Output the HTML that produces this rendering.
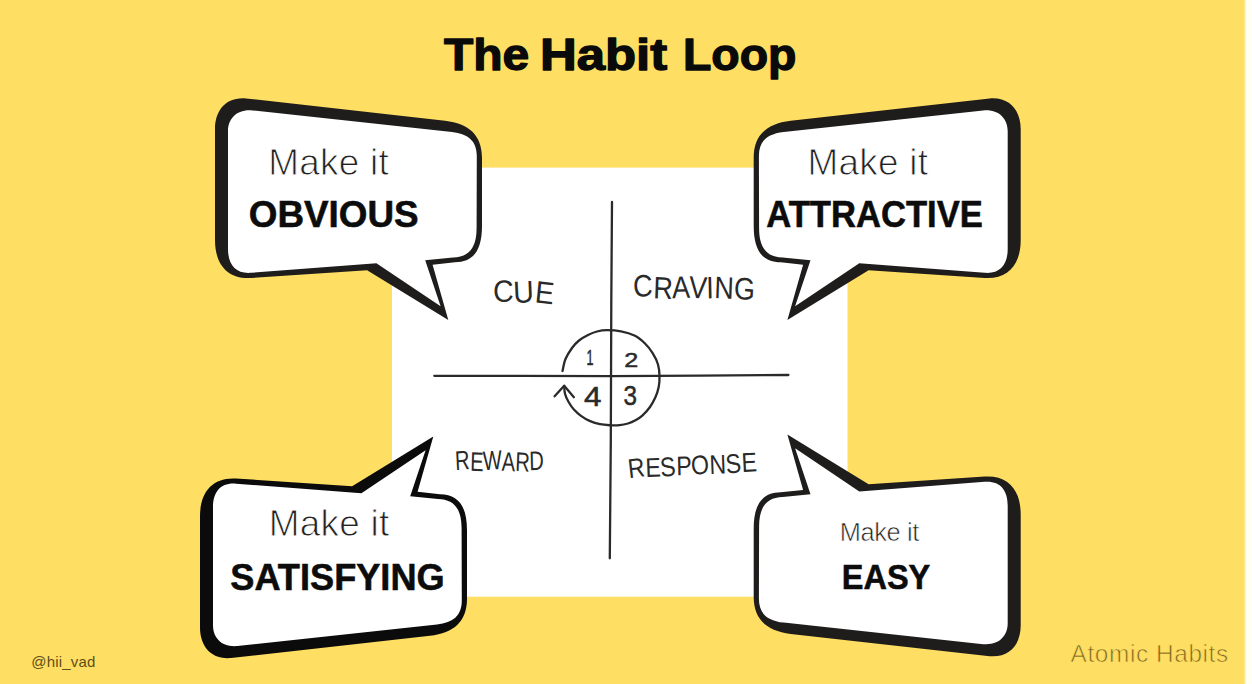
<!DOCTYPE html>
<html lang="en"><head><meta charset="utf-8"><title>The Habit Loop</title>
<style>
html,body{margin:0;padding:0;background:#fffff4;overflow:hidden}
body{width:1252px;height:684px;position:relative}
svg{position:absolute;left:0;top:0;display:block}
text{font-family:"Liberation Sans",sans-serif;white-space:pre}
</style></head><body>
<svg width="1252" height="684" viewBox="0 0 1252 684">
<defs><linearGradient id="edge" x1="0" x2="1"><stop offset="0" stop-color="#FEDE63"/><stop offset="1" stop-color="#fffff0"/></linearGradient></defs>
<rect x="0" y="0" width="1244" height="684" fill="#FEDE63"/>
<rect x="1243.5" y="0" width="3" height="684" fill="url(#edge)"/>
<rect x="392" y="167.6" width="455.5" height="429.1" fill="#ffffff"/>

<text y="70.2" font-size="45" font-weight="700" fill="#0a0a0a" stroke="#0a0a0a" stroke-width="1.3" stroke-linejoin="round"><tspan x="443.9" textLength="85.3" lengthAdjust="spacingAndGlyphs">The</tspan> <tspan x="540" textLength="127.2" lengthAdjust="spacingAndGlyphs">Habit</tspan> <tspan x="683" textLength="113.5" lengthAdjust="spacingAndGlyphs">Loop</tspan></text>
<g>
<g fill="none" stroke="#2a2a2a" stroke-width="2.3" stroke-linecap="round" stroke-linejoin="round">
<path d="M434.3,375.8 L520,375.9 L611,376.1 L700,375.6 L788.4,375"/>
<path d="M612,202 L611.3,300 L610.8,440 L609.8,558.3"/>
<path d="M562.5,371.0 C563.0,369.0 563.9,362.8 565.5,359.0 C567.1,355.2 569.8,351.1 572.0,348.0 C574.2,344.9 576.3,342.7 579.0,340.5 C581.7,338.3 585.0,336.5 588.0,335.0 C591.0,333.5 593.8,332.3 597.0,331.5 C600.2,330.7 603.0,330.2 607.0,330.2 C611.0,330.2 616.3,330.4 621.0,331.3 C625.7,332.2 631.0,333.8 635.0,335.8 C639.0,337.8 642.0,340.6 645.0,343.5 C648.0,346.4 650.6,349.8 652.8,353.3 C655.0,356.8 656.9,360.7 658.0,364.5 C659.1,368.3 659.4,372.2 659.5,376.0 C659.6,379.8 659.4,383.5 658.7,387.0 C658.0,390.5 656.9,393.9 655.4,397.2 C653.9,400.5 652.2,403.9 650.0,407.0 C647.8,410.1 644.7,413.4 642.3,415.6 C639.9,417.8 637.9,419.0 635.5,420.3 C633.1,421.6 630.7,422.7 628.0,423.5 C625.3,424.3 622.4,424.9 619.5,425.2 C616.6,425.5 614.0,425.5 610.7,425.3 C607.5,425.1 603.5,424.9 600.0,424.2 C596.5,423.5 592.8,422.3 589.6,420.9 C586.4,419.5 583.6,417.8 581.0,415.9 C578.4,414.0 576.0,411.8 573.9,409.5 C571.8,407.2 570.1,404.6 568.6,402.0 C567.1,399.4 565.7,396.4 565.0,393.7 C564.3,391.0 564.3,387.1 564.2,385.8"/>
<path d="M554.6,396.3 L564.2,385.8 L573.9,397.2"/>
</g>
<text x="493.2" y="302" font-size="31" fill="#2a2a2a" dy="0 1 -1.5" rotate="-2 -4 5" transform="rotate(1 493.2 302)" textLength="60" lengthAdjust="spacingAndGlyphs">CUE</text>
<text x="633.4" y="297" font-size="31" fill="#2a2a2a" dy="0 1 0 -1 1 -0.5 0.5" rotate="-3 2 -2 3 -2 2 3" transform="rotate(0.4 633.4 297)" textLength="121" lengthAdjust="spacingAndGlyphs">CRAVING</text>
<text x="455.4" y="470.3" font-size="27" fill="#2a2a2a" dy="0 0.5 -0.5 0.5 0 -0.5" rotate="-4 2 -3 2 3 -2" textLength="88.5" lengthAdjust="spacingAndGlyphs">REWARD</text>
<text x="629" y="478.3" font-size="27" fill="#2a2a2a" dy="0 -0.5 1 -1 0.5 0 0.5 -1" rotate="-4 1 -3 2 -2 1 -3 0" transform="rotate(-3 629 478.3)" textLength="128.5" lengthAdjust="spacingAndGlyphs">RESPONSE</text>
<text x="586.5" y="364.7" font-size="21.5" fill="#2a2a2a" stroke="#2a2a2a" stroke-width="0.5" textLength="7" lengthAdjust="spacingAndGlyphs">1</text>
<text x="624.2" y="367.4" font-size="21" fill="#2a2a2a" stroke="#2a2a2a" stroke-width="0.5" textLength="14" lengthAdjust="spacingAndGlyphs">2</text>
<text x="584" y="406" font-size="27" fill="#2a2a2a" stroke="#2a2a2a" stroke-width="0.5" textLength="17.5" lengthAdjust="spacingAndGlyphs">4</text>
<text x="623.4" y="405.1" font-size="27" fill="#2a2a2a" stroke="#2a2a2a" stroke-width="0.5" textLength="13.5" lengthAdjust="spacingAndGlyphs">3</text>
</g>
<g><path d="M215,129 C215,112 224.5,96.8 246,98.4 L445,120.7 C469,123.5 482,135 482,158 L482,226 C482,251 473,262 455,262.3 L432.6,264.7 L448.3,320 L367.1,270.3 L251,278 C228,279.5 215,265 215,240 Z" fill="#1f1c1c"/><path d="M228,131 C228,119 236.5,109 252.5,110.4 L452,132 C468.5,134 476.8,141 476.8,156 L476.6,228 C476.6,248.5 468.5,257 453,257.5 L425.2,260.3 L440.6,306.3 L376.4,263.2 L251,272.8 C236,274 228,265 228,249 Z" fill="#fff"/></g>
<g transform="translate(1235.7,0) scale(-1,1)"><path d="M215,129 C215,112 224.5,96.8 246,98.4 L445,120.7 C469,123.5 482,135 482,158 L482,226 C482,251 473,262 455,262.3 L432.6,264.7 L448.3,320 L367.1,270.3 L251,278 C228,279.5 215,265 215,240 Z" fill="#1f1c1c"/><path d="M228,131 C228,119 236.5,109 252.5,110.4 L452,132 C468.5,134 476.8,141 476.8,156 L476.6,228 C476.6,248.5 468.5,257 453,257.5 L425.2,260.3 L440.6,306.3 L376.4,263.2 L251,272.8 C236,274 228,265 228,249 Z" fill="#fff"/></g>
<g transform="translate(-15,756.5) scale(1,-1)"><path d="M215,129 C215,112 224.5,96.8 246,98.4 L445,120.7 C469,123.5 482,135 482,158 L482,226 C482,251 473,262 455,262.3 L432.6,264.7 L448.3,320 L367.1,270.3 L251,278 C228,279.5 215,265 215,240 Z" fill="#0b0b0b"/><path d="M228,131 C228,119 236.5,109 252.5,110.4 L452,132 C468.5,134 476.8,141 476.8,156 L476.6,228 C476.6,248.5 468.5,257 453,257.5 L425.2,260.3 L440.6,306.3 L376.4,263.2 L251,272.8 C236,274 228,265 228,249 Z" fill="#fff"/></g>
<g transform="translate(1235.7,754.6) scale(-1,-1)"><path d="M215,129 C215,112 224.5,96.8 246,98.4 L445,120.7 C469,123.5 482,135 482,158 L482,226 C482,251 473,262 455,262.3 L432.6,264.7 L448.3,320 L367.1,270.3 L251,278 C228,279.5 215,265 215,240 Z" fill="#1f1c1c"/><path d="M228,131 C228,119 236.5,109 252.5,110.4 L452,132 C468.5,134 476.8,141 476.8,156 L476.6,228 C476.6,248.5 468.5,257 453,257.5 L425.2,260.3 L440.6,306.3 L376.4,263.2 L251,272.8 C236,274 228,265 228,249 Z" fill="#fff"/></g>
<text x="268.3" y="174.5" font-size="36.9" fill="#222" stroke="#fff" stroke-width="0.9" textLength="120.5" lengthAdjust="spacing">Make it</text>
<text x="248.8" y="226.7" font-size="36.6" font-weight="700" fill="#0c0c0c" stroke="#0c0c0c" stroke-width="0.55" textLength="169.8" lengthAdjust="spacingAndGlyphs">OBVIOUS</text>
<text x="807.4" y="174.5" font-size="36.9" fill="#222" stroke="#fff" stroke-width="0.9" textLength="120.5" lengthAdjust="spacing">Make it</text>
<text x="766.3" y="226.7" font-size="36.6" font-weight="700" fill="#0c0c0c" stroke="#0c0c0c" stroke-width="0.55" textLength="216.5" lengthAdjust="spacingAndGlyphs">ATTRACTIVE</text>
<text x="268.7" y="536.4" font-size="36.9" fill="#222" stroke="#fff" stroke-width="0.9" textLength="120.6" lengthAdjust="spacing">Make it</text>
<text x="230.3" y="589.7" font-size="37.2" font-weight="700" fill="#0c0c0c" stroke="#0c0c0c" stroke-width="0.55" textLength="214.4" lengthAdjust="spacingAndGlyphs">SATISFYING</text>
<text x="839.8" y="541" font-size="25.4" fill="#222" stroke="#fff" stroke-width="0.6" textLength="79.5" lengthAdjust="spacing">Make it</text>
<text x="841.8" y="588.5" font-size="35.8" font-weight="700" fill="#0c0c0c" stroke="#0c0c0c" stroke-width="0.55" textLength="88.5" lengthAdjust="spacingAndGlyphs">EASY</text>
<text x="31.3" y="666.6" font-size="15" fill="#5f4f17" textLength="64" lengthAdjust="spacing">@hii_vad</text>
<text x="1070.6" y="661.8" font-size="24.4" fill="#7d6a22" stroke="#FEDE63" stroke-width="0.7" textLength="157.5" lengthAdjust="spacing">Atomic Habits</text>
</svg></body></html>
